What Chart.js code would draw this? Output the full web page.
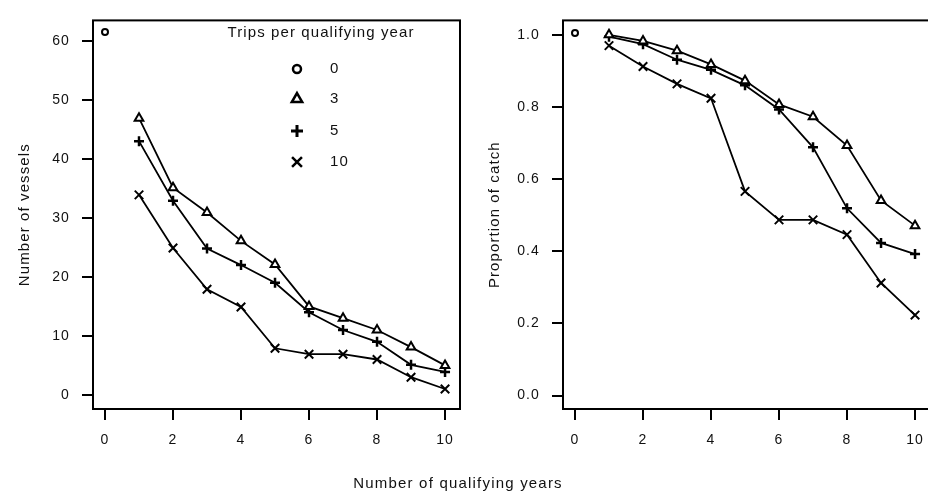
<!DOCTYPE html>
<html>
<head>
<meta charset="utf-8">
<script src="https://cdn.jsdelivr.net/npm/chart.js@4.4.1/dist/chart.umd.min.js"></script>
<style>
html, body { margin: 0; padding: 0; background: #fff; overflow: hidden; width: 928px; height: 495px; }
#wrap { position: relative; width: 928px; height: 495px; }
.pane { position: absolute; top: 0; width: 470px; height: 495px; }
#xtitle { position: absolute; left: 0; width: 916px; top: 474px; text-align: center;
  font: 15px "Liberation Sans", Arial, sans-serif; letter-spacing: 1.2px; color: #111; }
</style>
</head>
<body>
<div id="wrap">
  <div class="pane" style="left:0"><canvas id="vessels"></canvas></div>
  <div class="pane" style="left:470px"><canvas id="catch"></canvas></div>
  <div id="xtitle">Number of qualifying years</div>
</div>
<script>
// qualifying years and series (trips per qualifying year)
const years = [1, 2, 3, 4, 5, 6, 7, 8, 9, 10];
const zeroYears = [0];
const seriesNames = ['0', '3', '5', '10'];
const legendTitle = 'Trips per qualifying year';

// number of vessels
const vessels0 = [61.6];
const vessels3 = [47, 35.2, 31, 26.2, 22.2, 15.1, 13.1, 11.1, 8.2, 5.1];
const vessels5 = [43.1, 33, 24.9, 22.1, 19.1, 14.1, 11.1, 9.1, 5.2, 4];
const vessels10 = [34, 25, 18, 15, 8, 7, 7, 6.1, 3.1, 1.1];

// proportion of catch
const catch0 = [1.005];
const catch3 = [1.0, 0.983, 0.956, 0.918, 0.873, 0.807, 0.773, 0.693, 0.541, 0.471];
const catch5 = [0.995, 0.974, 0.931, 0.903, 0.860, 0.793, 0.688, 0.519, 0.423, 0.392];
const catch10 = [0.970, 0.912, 0.864, 0.824, 0.566, 0.487, 0.487, 0.446, 0.312, 0.223];

const xTicks = [0, 2, 4, 6, 8, 10];
const vesselTicks = [0, 10, 20, 30, 40, 50, 60];
const catchTicks = [0, 0.2, 0.4, 0.6, 0.8, 1.0];

const FONT = '"Liberation Sans", Arial, sans-serif';
const INK = '#111';

const markers = [
  { pointStyle: 'circle', pointRadius: 3, pointBorderWidth: 2 },
  { pointStyle: 'triangle', pointRadius: 5, pointBorderWidth: 2 },
  { pointStyle: 'cross', pointRadius: 5, pointBorderWidth: 2.5 },
  { pointStyle: 'crossRot', pointRadius: 6, pointBorderWidth: 2 }
];

function pairs(xs, ys) {
  return ys.map((y, i) => ({ x: xs[i], y: y }));
}

function makeDatasets(s0, s3, s5, s10) {
  const all = [pairs(zeroYears, s0), pairs(years, s3), pairs(years, s5), pairs(years, s10)];
  return all.map((d, i) => Object.assign({
    label: seriesNames[i],
    data: d,
    borderColor: '#000',
    backgroundColor: '#fff',
    pointBackgroundColor: '#fff',
    pointBorderColor: '#000',
    borderWidth: 1.8,
    showLine: i > 0,
    tension: 0
  }, markers[i]));
}

// wider letter spacing, like the original device fonts
const spacingPlugin = {
  id: 'spacing',
  beforeDraw(chart) {
    chart.ctx.letterSpacing = '1.1px';
  }
};

// box round the plot region
const framePlugin = {
  id: 'frame',
  beforeDatasetsDraw(chart) {
    const a = chart.chartArea;
    const ctx = chart.ctx;
    ctx.save();
    ctx.strokeStyle = '#000';
    ctx.lineWidth = 2;
    ctx.strokeRect(a.left, a.top, a.right - a.left, a.bottom - a.top);
    ctx.restore();
  }
};

// legend inside the left plot
const legendPlugin = {
  id: 'tripsLegend',
  afterDatasetsDraw(chart) {
    const ctx = chart.ctx;
    const rowY = [69, 99, 131, 162];
    ctx.save();
    ctx.fillStyle = INK;
    ctx.font = '15px ' + FONT;
    ctx.textAlign = 'center';
    ctx.textBaseline = 'middle';
    ctx.fillText(legendTitle, 321, 33);
    chart.data.datasets.forEach((ds, i) => {
      ctx.strokeStyle = '#000';
      ctx.fillStyle = '#fff';
      ctx.lineWidth = ds.pointBorderWidth + 0.5;
      Chart.helpers.drawPoint(ctx, {
        pointStyle: ds.pointStyle,
        radius: ds.pointRadius + 1,
        borderWidth: ds.pointBorderWidth + 0.5,
        rotation: 0
      }, 297, rowY[i]);
      ctx.fillStyle = INK;
      ctx.textAlign = 'left';
      ctx.fillText(ds.label, 330, rowY[i]);
    });
    ctx.restore();
  }
};

function makeConfig(datasets, yTicks, yMin, yMax, yTitle, fmt, extraPlugins) {
  return {
    type: 'scatter',
    data: { datasets: datasets },
    options: {
      responsive: true,
      maintainAspectRatio: false,
      animation: false,
      layout: { padding: { left: 0, top: 6, right: 10, bottom: 0 } },
      plugins: { legend: { display: false }, tooltip: { enabled: false } },
      scales: {
        x: {
          type: 'linear',
          min: -0.353,
          max: 10.44,
          afterBuildTicks: s => { s.ticks = xTicks.map(v => ({ value: v })); },
          afterFit: s => { s.height = 86; },
          grid: { drawOnChartArea: false, drawTicks: true, tickLength: 11, color: '#000', lineWidth: 2 },
          border: { display: false },
          ticks: { color: INK, font: { family: FONT, size: 14 }, padding: 12, maxRotation: 0 }
        },
        y: {
          type: 'linear',
          min: yMin,
          max: yMax,
          afterBuildTicks: s => { s.ticks = yTicks.map(v => ({ value: v })); },
          afterFit: s => { s.width = 93; },
          grid: { drawOnChartArea: false, drawTicks: true, tickLength: 11, color: '#000', lineWidth: 2 },
          border: { display: false },
          ticks: { color: INK, font: { family: FONT, size: 14 }, padding: 12, callback: fmt },
          title: { display: true, text: yTitle, color: INK, font: { family: FONT, size: 15 }, padding: { top: 16, bottom: 0 } }
        }
      }
    },
    plugins: [spacingPlugin, framePlugin].concat(extraPlugins)
  };
}

new Chart(document.getElementById('vessels'),
  makeConfig(makeDatasets(vessels0, vessels3, vessels5, vessels10), vesselTicks, -2.29, 63.56,
    'Number of vessels', v => String(v), [legendPlugin]));

new Chart(document.getElementById('catch'),
  makeConfig(makeDatasets(catch0, catch3, catch5, catch10), catchTicks, -0.0374, 1.040,
    'Proportion of catch', v => Number(v).toFixed(1), []));
</script>
</body>
</html>
